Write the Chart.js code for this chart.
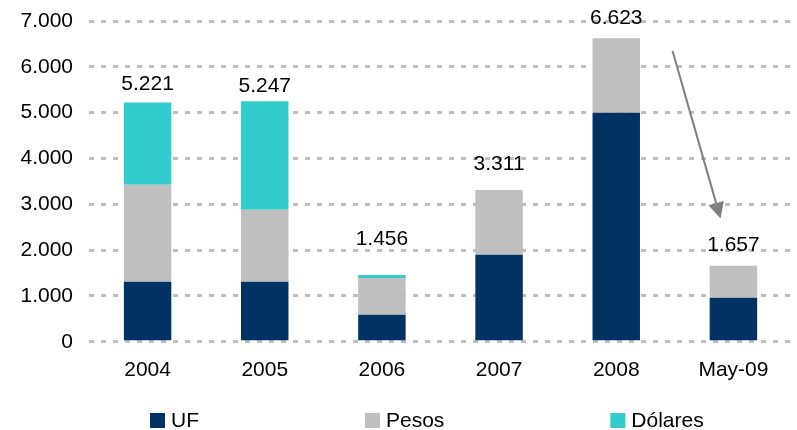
<!DOCTYPE html>
<html>
<head>
<meta charset="utf-8">
<script src="https://cdn.jsdelivr.net/npm/chart.js@4/dist/chart.umd.min.js"></script>
<style>
  html, body { margin: 0; padding: 0; background: #fff; }
  #wrap { width: 797px; height: 430px; }
</style>
</head>
<body>
<div id="wrap"><canvas id="myChart" width="797" height="430"></canvas></div>
<script>
// chart data
var categories = ["2004", "2005", "2006", "2007", "2008", "May-09"];
var ufValues = [1310, 1310, 590, 1900, 5000, 960];
var pesosValues = [2118, 1572, 800, 1411, 1623, 697];
var dolaresValues = [1793, 2365, 66, 0, 0, 0];
var totals = [5221, 5247, 1456, 3311, 6623, 1657];
var yTicks = [0, 1000, 2000, 3000, 4000, 5000, 6000, 7000];

var FONT = "'Liberation Sans', Arial, sans-serif";
var FSIZE = 21;

function fmt(n) {
    return String(n).replace(/\B(?=(\d{3})+(?!\d))/g, ".");
}

// totals above each stack
var totalLabels = {
    id: "totalLabels",
    afterDatasetsDraw: function(chart, args, opts) {
        var ctx = chart.ctx;
        var x = chart.scales.x, y = chart.scales.y;
        ctx.save();
        ctx.font = FSIZE + "px " + FONT;
        ctx.fillStyle = "#000";
        ctx.textAlign = "center";
        ctx.textBaseline = "middle";
        for (var i = 0; i < totals.length; i++) {
            var px = x.getPixelForValue(i);
            var py = y.getPixelForValue(totals[i]) - opts.offsets[i];
            ctx.fillText(fmt(totals[i]), px, py);
        }
        ctx.restore();
    }
};

// grey arrow, ends given in data space
var arrow = {
    id: "arrow",
    afterDatasetsDraw: function(chart, args, opts) {
        var ctx = chart.ctx;
        var x = chart.scales.x, y = chart.scales.y;
        var x1 = x.getPixelForValue(opts.from[0]), y1 = y.getPixelForValue(opts.from[1]);
        var x2 = x.getPixelForValue(opts.to[0]), y2 = y.getPixelForValue(opts.to[1]);
        var a = Math.atan2(y2 - y1, x2 - x1);
        var hl = 16, hw = 8;
        var bx = x2 - Math.cos(a) * hl, by = y2 - Math.sin(a) * hl;
        ctx.save();
        ctx.strokeStyle = "#808080";
        ctx.fillStyle = "#808080";
        ctx.lineWidth = 2;
        ctx.beginPath();
        ctx.moveTo(x1, y1);
        ctx.lineTo(bx, by);
        ctx.stroke();
        ctx.beginPath();
        ctx.moveTo(x2, y2);
        ctx.lineTo(bx + Math.sin(a) * hw, by - Math.cos(a) * hw);
        ctx.lineTo(bx - Math.sin(a) * hw, by + Math.cos(a) * hw);
        ctx.closePath();
        ctx.fill();
        ctx.restore();
    }
};

// legend drawn along the bottom
var bottomLegend = {
    id: "bottomLegend",
    afterDraw: function(chart, args, opts) {
        var ctx = chart.ctx;
        var cy = chart.height - opts.bottom;
        var xpos = opts.startX;
        ctx.save();
        ctx.font = FSIZE + "px " + FONT;
        ctx.textBaseline = "middle";
        ctx.textAlign = "left";
        chart.data.datasets.forEach(function(ds) {
            ctx.fillStyle = ds.backgroundColor;
            ctx.fillRect(xpos, cy - 7.5, 15, 15);
            ctx.fillStyle = "#000";
            ctx.fillText(ds.label, xpos + 21, cy + 1);
            xpos += 21 + ctx.measureText(ds.label).width + opts.gap;
        });
        ctx.restore();
    }
};

var canvas = document.getElementById("myChart");
var ctx = canvas.getContext("2d");

var myChart = new Chart(ctx, {
    type: "bar",
    data: {
        labels: categories,
        datasets: [
            { label: "UF", data: ufValues, backgroundColor: "#003263" },
            { label: "Pesos", data: pesosValues, backgroundColor: "#BFBFBF" },
            { label: "Dólares", data: dolaresValues, backgroundColor: "#33CCCC" }
        ]
    },
    options: {
        responsive: false,
        animation: false,
        layout: { padding: { top: 21, right: 5, bottom: 31, left: 0 } },
        datasets: {
            bar: { categoryPercentage: 1, barPercentage: 0.405 }
        },
        scales: {
            x: {
                stacked: true,
                grid: { display: false, drawTicks: false },
                border: { display: false },
                ticks: { color: "#000", font: { family: FONT, size: FSIZE }, padding: 16 }
            },
            y: {
                stacked: true,
                min: 0,
                max: 7000,
                afterFit: function(scale) {
                    scale.width = 89;
                    scale.paddingTop = 0;
                    scale.paddingBottom = 0;
                },
                afterBuildTicks: function(scale) {
                    scale.ticks = yTicks.map(function(v) { return { value: v }; });
                },
                grid: { color: "#BFBFBF", lineWidth: 3, drawTicks: false },
                border: { display: false, dash: [5, 7] },
                ticks: {
                    color: "#000",
                    font: { family: FONT, size: FSIZE },
                    padding: 16,
                    callback: function(v) { return fmt(v); }
                }
            }
        },
        plugins: {
            legend: { display: false },
            tooltip: { enabled: false },
            totalLabels: { offsets: [18, 15.5, 36, 26, 20, 20.7] },
            arrow: { from: [4.48, 6350], to: [4.89, 2690] },
            bottomLegend: { startX: 150, gap: 166, bottom: 9.5 }
        }
    },
    plugins: [totalLabels, arrow, bottomLegend]
});
</script>
</body>
</html>
